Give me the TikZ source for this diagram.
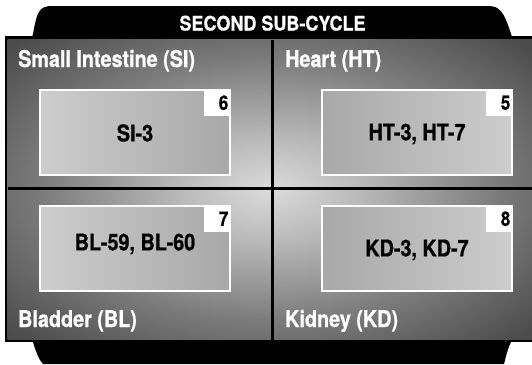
\documentclass[tikz,border=0pt]{standalone}
\usepackage{fontspec}
\setmainfont{TeX Gyre Heros}
\newfontfamily\lblfont{TeX Gyre Heros}[FakeStretch=0.86,FakeBold=0.8]
\newfontfamily\ttlfont{TeX Gyre Heros}[FakeStretch=0.9,FakeBold=0.8]
\newfontfamily\numfont{TeX Gyre Heros}[FakeStretch=0.85,FakeBold=0.8]
\definecolor{boxA}{RGB}{205,205,205}
\definecolor{boxB}{RGB}{168,168,168}
\pgfdeclareradialshading{panelshade}{\pgfpoint{0bp}{0bp}}{%
  color(0bp)=(black!14);
  color(9bp)=(black!28);
  color(22bp)=(black!52);
  color(34bp)=(black!70);
  color(50bp)=(black!70)}
\begin{document}
\begin{tikzpicture}[x=1pt,y=-1pt,
  lbl/.style={text=white,font=\lblfont\bfseries\fontsize{23}{26}\selectfont,anchor=base west,inner sep=0pt},
  ttl/.style={text=white,font=\ttlfont\bfseries\fontsize{20}{22}\selectfont,anchor=base,inner sep=0pt},
  cell/.style={draw=white,line width=2pt,minimum width=190pt,minimum height=85pt,inner sep=0pt},
  cellL/.style={cell,left color=boxA,right color=boxB},
  cellR/.style={cell,left color=boxB,right color=boxA},
  celltxt/.style={text=black,font=\lblfont\bfseries\fontsize{23}{26}\selectfont,inner sep=0pt},
  numsq/.style={fill=white,text=black,font=\numfont\bfseries\fontsize{20}{20}\selectfont,minimum height=27pt,text width=22pt,inner xsep=2.5pt,inner ysep=0pt,align=right,anchor=north east},
  divider/.style={draw=black,line width=3pt}]
\useasboundingbox (0,0) rectangle (532,364);
% black tabs and frame
\fill[black] (31,40) -- (33,34) .. controls (37,12) and (39,6) .. (52,6) -- (488,6) .. controls (500,6) and (504,12) .. (511,34) -- (513,40) -- cycle;
\fill[black] (5,36) rectangle (532,342);
\fill[black] (31,340) -- (33,342) .. controls (36,352) and (39,360) .. (43,364) -- (504,364) .. controls (506,356) and (508,348) .. (511,342) -- (513,340) -- cycle;
% panel
\shade[shading=panelshade] (7.5,39.5) rectangle (532,339.5);
% dividers
\coordinate (vt) at (272,39.5);
\coordinate (vb) at (272,339.5);
\coordinate (hl) at (7.5,188);
\coordinate (hr) at (532,188);
\draw[divider] (vt) -- (vb);
\draw[divider] (hl) -- (hr);
% title
\node[ttl] (title) at (272.5,30.5) {SECOND SUB-CYCLE};
% quadrant labels
\node[lbl] (lsi) at (18,67) {Small Intestine (SI)};
\node[lbl] (lht) at (285,67) {Heart (HT)};
\node[lbl] (lbl) at (18,327) {Bladder (BL)};
\node[lbl] (lkd) at (285,327) {Kidney (KD)};
% cells
\node[cellL] (si) at (135,132.5) {};
\node[cellR] (ht) at (417,132.5) {};
\node[cellL] (bl) at (135,248.5) {};
\node[cellR] (kd) at (417,248.5) {};
\node[celltxt] (tsi) at (135,133) {SI-3};
\node[celltxt] (tht) at (417,134) {HT-3, HT-7};
\node[celltxt] (tbl) at (135,244) {BL-59, BL-60};
\node[celltxt] (tkd) at (417,250) {KD-3, KD-7};
% numbers
\node[numsq] (n6) at (si.north east) {6};
\node[numsq] (n5) at (ht.north east) {5};
\node[numsq] (n7) at (bl.north east) {7};
\node[numsq] (n8) at (kd.north east) {8};
\end{tikzpicture}
\end{document}
